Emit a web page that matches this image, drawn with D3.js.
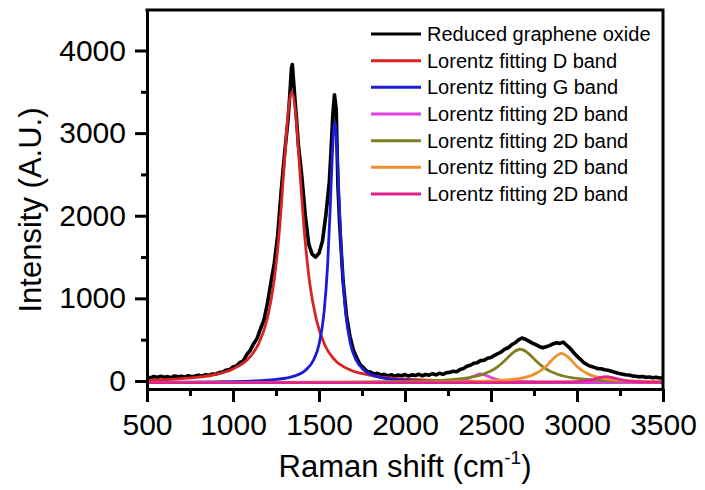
<!DOCTYPE html>
<html>
<head>
<meta charset="utf-8">
<script src="https://cdn.jsdelivr.net/npm/d3@7"></script>
<style>
  body { margin: 0; background: #fff; }
  text { font-family: "Liberation Sans", Arial, sans-serif; fill: #000; }
</style>
</head>
<body>
<div class="chart"></div>
<script>
//-----------------------------------------
// data
//-----------------------------------------

// measured spectrum (black)
var rgoShift = [500,520,540,560,580,600,620,640,660,680,700,720,740,760,780,800,820,840,860,880,
  900,920,940,960,980,1000,1020,1040,1060,1080,1100,1120,1140,1160,1180,1200,1220,1240,1260,1280,
  1300,1320,1330,1340,1345,1350,1360,1370,1380,1400,1420,1440,1460,1480,1500,1520,1540,1560,1570,1580,
  1590,1600,1610,1620,1640,1660,1680,1700,1720,1740,1760,1780,1800,1820,1840,1860,1880,1900,1920,1940,
  1960,1980,2000,2020,2040,2060,2080,2100,2120,2140,2160,2180,2200,2220,2240,2260,2280,2300,2320,2340,
  2360,2380,2400,2420,2440,2460,2480,2500,2520,2540,2560,2580,2600,2620,2640,2660,2680,2700,2720,2740,
  2760,2780,2800,2820,2840,2860,2880,2900,2920,2940,2960,2980,3000,3020,3040,3060,3080,3100,3120,3140,
  3160,3180,3200,3220,3240,3260,3280,3300,3320,3340,3360,3380,3400,3420,3440,3460,3480,3500];
var rgoIntensity = [48,36,55,42,58,46,53,40,61,50,57,45,64,52,60,71,58,76,68,85,
  82,101,107,131,138,170,182,222,245,318,370,452,515,632,738,935,1185,1425,1765,2295,
  2755,3160,3455,3790,3830,3690,3410,3150,2860,2480,2010,1660,1535,1500,1545,1690,2010,2410,2790,3210,
  3465,3290,2370,1900,1210,790,540,372,278,196,158,115,108,84,93,71,80,62,76,58,
  73,64,78,60,74,66,82,63,79,70,88,74,93,80,99,104,118,112,140,152,
  178,190,214,222,246,250,276,284,310,330,352,385,402,438,462,498,520,505,482,458,
  440,418,402,415,428,448,462,455,470,432,395,345,300,262,220,196,178,165,150,148,
  135,130,118,106,95,85,76,72,62,58,50,54,44,48,38,45,36,40];

// Lorentz fitting D band (red)
var dShift = [500,700,900,1000,1100,1150,1200,1240,1270,1300,1320,1342,1365,1385,1415,1445,1485,1535,1585,1685,1785,1985,2300,2700,3100,3500];
var dIntensity = [8,28,80,145,295,455,760,1230,1830,2680,3230,3500,3220,2650,1800,1200,740,430,270,130,75,25,0,-10,-14,-16];

// Lorentz fitting G band (blue)
var gShift = [500,900,1100,1250,1350,1420,1470,1500,1530,1550,1565,1578,1592,1606,1619,1634,1654,1684,1714,1764,1834,1934,2100,2500,3000,3500];
var gIntensity = [-16,-10,-1,19,56,127,260,441,843,1403,2080,2762,3140,2762,2080,1403,843,441,260,127,56,19,-2,-14,-18,-19];

// Lorentz fitting 2D band, four components
var band1Shift = [500,1500,2000,2200,2300,2350,2400,2440,2480,2530,2580,2680,2900,3500];
var band1Intensity = [-20,-19,-17,-12,1,20,59,85,59,20,1,-12,-18,-20];

var band2Shift = [500,1500,2000,2200,2350,2450,2530,2590,2630,2670,2710,2750,2810,2890,2990,3140,3340,3500];
var band2Intensity = [-19,-15,-6,7,34,79,159,267,347,384,347,267,159,79,34,7,-6,-11];

var band3Shift = [500,1500,2000,2300,2500,2650,2750,2820,2870,2910,2950,3000,3070,3170,3320,3500];
var band3Intensity = [-19,-18,-16,-11,0,26,80,176,286,335,286,176,80,26,0,-10];

var band4Shift = [500,2500,2700,2900,3000,3070,3120,3170,3220,3270,3340,3500];
var band4Intensity = [-20,-19,-18,-14,-7,8,32,52,32,8,-7,-16];

var seriesNames = ["Reduced graphene oxide", "Lorentz fitting D band", "Lorentz fitting G band",
  "Lorentz fitting 2D band", "Lorentz fitting 2D band", "Lorentz fitting 2D band", "Lorentz fitting 2D band"];
var seriesColors = ["#000000", "#d92424", "#1c1cd8", "#e040e0", "#808020", "#f0902c", "#e0208c"];

var xTicks = [500, 1000, 1500, 2000, 2500, 3000, 3500];
var xMinorTicks = [750, 1250, 1750, 2250, 2750, 3250];
var yTicks = [0, 1000, 2000, 3000, 4000];
var yMinorTicks = [500, 1500, 2500, 3500];

//-----------------------------------------
// chart
//-----------------------------------------
var svgWidth = 705;
var svgHeight = 490;

var plot = { left: 147, right: 663, top: 10, bottom: 389 };

var svg = d3.select(".chart")
    .append("svg")
    .attr("width", svgWidth)
    .attr("height", svgHeight);

svg.append("rect")
    .attr("width", svgWidth)
    .attr("height", svgHeight)
    .attr("fill", "#fff");

var xScale = d3.scaleLinear()
    .domain([500, 3500])
    .range([plot.left, plot.right]);

var yScale = d3.scaleLinear()
    .domain([-97, 4490])
    .range([plot.bottom, plot.top]);

// curves
var series = [
    [rgoShift, rgoIntensity],
    [dShift, dIntensity],
    [gShift, gIntensity],
    [band1Shift, band1Intensity],
    [band2Shift, band2Intensity],
    [band3Shift, band3Intensity],
    [band4Shift, band4Intensity]
];

svg.append("clipPath")
    .attr("id", "plotClip")
    .append("rect")
    .attr("x", plot.left)
    .attr("y", plot.top)
    .attr("width", plot.right - plot.left)
    .attr("height", plot.bottom - plot.top);

var curveGroup = svg.append("g").attr("clip-path", "url(#plotClip)");

series.forEach(function(s, i) {
    var pts = s[0].map(function(x, j) { return [x, s[1][j]]; });
    var line = d3.line()
        .x(function(d) { return xScale(d[0]); })
        .y(function(d) { return yScale(d[1]); })
        .curve(i == 0 ? d3.curveLinear : d3.curveMonotoneX);
    curveGroup.append("path")
        .datum(pts)
        .attr("d", line)
        .attr("fill", "none")
        .attr("stroke", seriesColors[i])
        .attr("stroke-width", i == 0 ? 3.6 : 2.8)
        .attr("stroke-linejoin", "round");
});

// axes: major + minor ticks
var yAxis = d3.axisLeft(yScale).tickValues(yTicks).tickSize(12).tickSizeOuter(0).tickPadding(9).tickFormat(d3.format("d"));
var yAxisMinor = d3.axisLeft(yScale).tickValues(yMinorTicks).tickSize(6).tickSizeOuter(0).tickFormat("");
var xAxis = d3.axisBottom(xScale).tickValues(xTicks).tickSize(13).tickSizeOuter(0).tickPadding(12).tickFormat(d3.format("d"));
var xAxisMinor = d3.axisBottom(xScale).tickValues(xMinorTicks).tickSize(7).tickSizeOuter(0).tickFormat("");

svg.append("g").attr("transform", `translate(${plot.left},0)`).call(yAxis);
svg.append("g").attr("transform", `translate(${plot.left},0)`).call(yAxisMinor);
svg.append("g").attr("transform", `translate(0,${plot.bottom})`).call(xAxis);
svg.append("g").attr("transform", `translate(0,${plot.bottom})`).call(xAxisMinor);

svg.selectAll(".domain").attr("stroke", "#000").attr("stroke-width", 3);
svg.selectAll(".tick line").attr("stroke", "#000").attr("stroke-width", 3);
svg.selectAll(".tick text")
    .style("font-family", "'Liberation Sans', Arial, sans-serif")
    .style("font-size", "30px")
    .attr("fill", "#000");

// frame top and right
svg.append("path")
    .attr("d", `M${plot.left},${plot.top}H${plot.right}V${plot.bottom}`)
    .attr("fill", "none")
    .attr("stroke", "#000")
    .attr("stroke-width", 3)
    .attr("stroke-linecap", "square");

// axis titles
svg.append("text")
    .attr("transform", "translate(41,210) rotate(-90)")
    .style("text-anchor", "middle")
    .style("font-size", "31px")
    .text("Intensity (A.U.)");

var xTitle = svg.append("text")
    .attr("x", 405)
    .attr("y", 477)
    .style("text-anchor", "middle")
    .style("font-size", "31px");
xTitle.append("tspan").text("Raman shift (cm");
xTitle.append("tspan").attr("dy", -13).style("font-size", "19px").text("-1");
xTitle.append("tspan").attr("dy", 13).text(")");

// legend
var legend = svg.append("g");
seriesNames.forEach(function(name, i) {
    var ly = 34 + i * 26.67;
    legend.append("line")
        .attr("x1", 371).attr("x2", 421)
        .attr("y1", ly).attr("y2", ly)
        .attr("stroke", seriesColors[i])
        .attr("stroke-width", 3);
    legend.append("text")
        .attr("x", 427)
        .attr("y", ly + 7)
        .style("font-size", "20px")
        .text(name);
});
</script>
</body>
</html>
